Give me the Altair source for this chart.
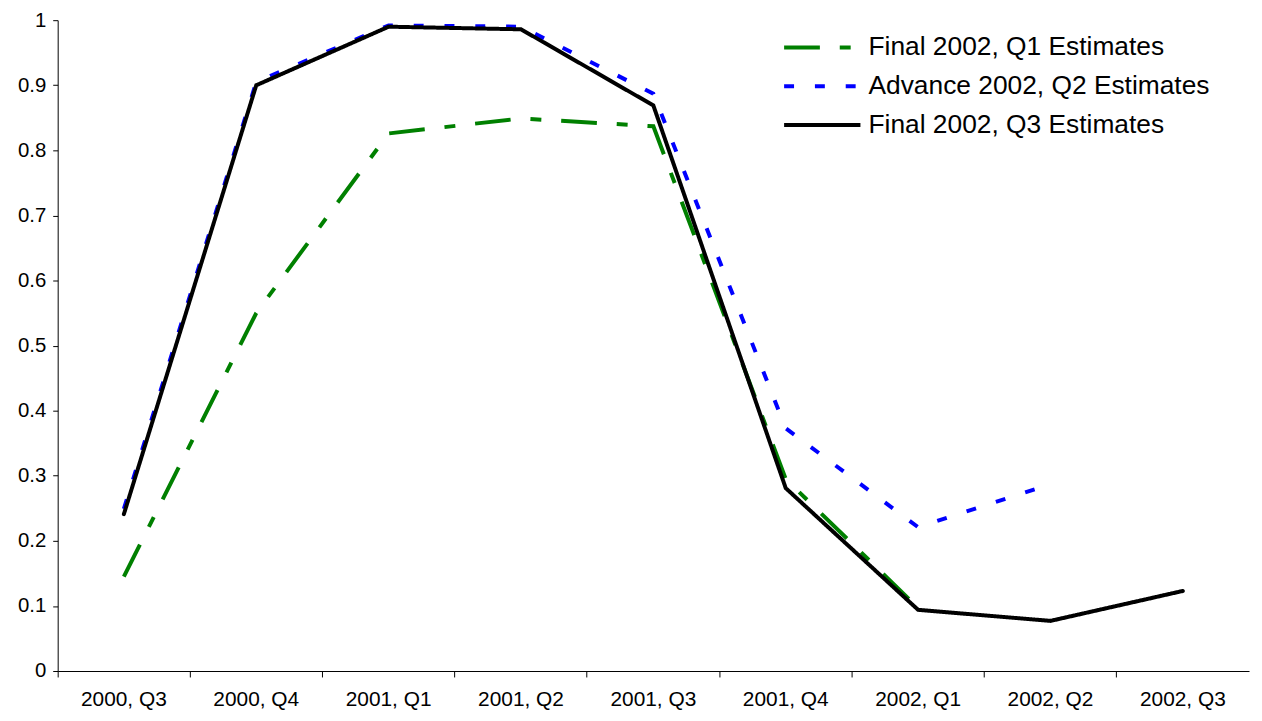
import altair as alt
import pandas as pd

quarters = ["2000, Q3", "2000, Q4", "2001, Q1", "2001, Q2", "2001, Q3",
            "2001, Q4", "2002, Q1", "2002, Q2", "2002, Q3"]
series_names = ["Final 2002, Q1 Estimates", "Advance 2002, Q2 Estimates", "Final 2002, Q3 Estimates"]

final_q1 = [0.145, 0.55, 0.826, 0.849, 0.837, 0.295, 0.097]
advance_q2 = [0.249, 0.905, 0.992, 0.990, 0.887, 0.373, 0.221, 0.287]
final_q3 = [0.241, 0.900, 0.990, 0.986, 0.869, 0.281, 0.094, 0.077, 0.123]

colors = ["#008000", "#0000FF", "#000000"]
dashes = [[36, 20, 11, 20], [10, 21], [1, 0]]
caps = ["butt", "butt", "round"]

rows = []
for name, vals in zip(series_names, [final_q1, advance_q2, final_q3]):
    for q, v in zip(quarters, vals):
        rows.append({"quarter": q, "value": v, "series": name})
df = pd.DataFrame(rows)

FONT = "Liberation Sans"

x_enc = alt.X("quarter:N", sort=quarters,
              scale=alt.Scale(type="band", domain=quarters, paddingInner=0, paddingOuter=0),
              axis=alt.Axis(title=None, labelAngle=0, bandPosition=0, tickSize=6,
                            labelPadding=12, labelFontSize=21, labelFont=FONT,
                            labelColor="black", domainColor="black", tickColor="black"))
y_enc = alt.Y("value:Q", scale=alt.Scale(domain=[0, 1], nice=False),
              axis=alt.Axis(title=None, values=[i / 10 for i in range(11)], format="~g",
                            tickSize=5, labelPadding=7, labelFontSize=20.5,
                            labelFont=FONT, labelColor="black",
                            domainColor="black", tickColor="black", grid=False))
color_enc = alt.Color("series:N", scale=alt.Scale(domain=series_names, range=colors),
                      legend=alt.Legend(title=None, orient="none", legendX=729, legendY=8,
                                        symbolType="stroke", symbolStrokeWidth=4,
                                        symbolSize=5900, labelFontSize=26.5,
                                        labelFont=FONT, labelColor="black",
                                        labelLimit=600,
                                        clipHeight=39, rowPadding=0, labelOffset=6))
dash_enc = alt.StrokeDash("series:N", scale=alt.Scale(domain=series_names, range=dashes),
                          legend=None)

layers = []
for name, cap in zip(series_names, caps):
    layers.append(
        alt.Chart(df).transform_filter(alt.datum.series == name)
        .mark_line(strokeWidth=4, strokeCap=cap, strokeJoin="miter")
        .encode(x=x_enc, y=y_enc, color=color_enc, strokeDash=dash_enc)
    )

chart = alt.layer(*layers).properties(
    width=1199, height=655,
    padding={"left": 50, "top": 10, "right": 5, "bottom": 40},
    autosize=alt.AutoSizeParams(type="none"),
).configure_view(stroke=None).configure_axis(grid=False)

chart.save("out.html", embed_options={"renderer": "svg", "actions": False})
